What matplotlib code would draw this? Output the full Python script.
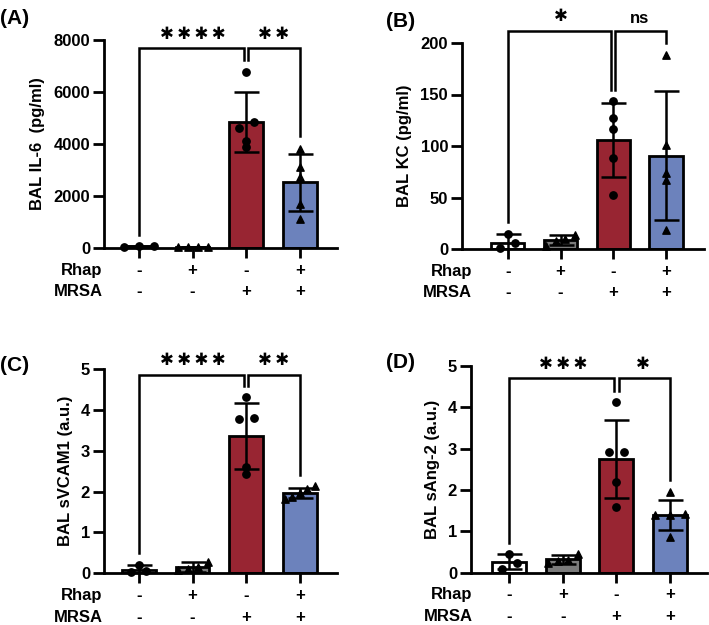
import matplotlib
matplotlib.use("Agg")
import matplotlib.pyplot as plt
import numpy as np

plt.rcParams['font.family'] = ['Liberation Sans', 'DejaVu Sans']
plt.rcParams['font.weight'] = 'bold'
plt.rcParams['axes.labelweight'] = 'bold'

# groups: (Rhap, MRSA)
rhap = ["-", "+", "-", "+"]
mrsa = ["-", "-", "+", "+"]
bar_colors = ["white", "#7b7b7b", "#982532", "#6c82bc"]
markers = ["o", "^", "o", "^"]

# (A) BAL IL-6
il6_mean = [65, 30, 4840, 2530]
il6_sd = [20, 8, 1150, 1090]
il6_pts = [[90, 60, 45], [35, 30, 25, 30],
           [6780, 4830, 4600, 4130, 3880],
           [3820, 3120, 2720, 1690, 1120]]

# (B) BAL KC
kc_mean = [6.3, 8.8, 105.8, 90.4]
kc_sd = [8, 5, 35.8, 62.6]
kc_pts = [[15, 5.5, 0.6], [14, 10, 8, 3],
          [143.5, 127.4, 116.5, 88.4, 52.9],
          [188.7, 101.3, 73.9, 67.1, 18.4]]

# (C) BAL sVCAM1
vcam_mean = [0.09, 0.15, 3.36, 1.97]
vcam_sd = [0.11, 0.12, 0.81, 0.12]
vcam_pts = [[0.21, 0.05, 0.03], [0.28, 0.16, 0.1, 0.07],
            [4.31, 3.79, 3.77, 2.61, 2.43],
            [2.13, 2.07, 1.96, 1.86, 1.83]]

# (D) BAL sAng-2
ang_mean = [0.26, 0.32, 2.75, 1.40]
ang_sd = [0.18, 0.10, 0.94, 0.37]
ang_pts = [[0.46, 0.24, 0.10], [0.44, 0.31, 0.28, 0.23],
           [4.12, 2.93, 2.93, 2.20, 1.59],
           [1.94, 1.41, 1.40, 1.39, 0.87]]

panels = [
    dict(tag="(A)", ylabel="BAL IL-6  (pg/ml)", mean=il6_mean, sd=il6_sd, pts=il6_pts,
         ymax=8000, yticks=[0, 2000, 4000, 6000, 8000],
         br_y=7680, legs=[500, 7240, 4290], stars=["✱✱✱✱", "✱✱"],
         rect=[0.1467, 0.6032, 0.3286, 0.3328], xlim=(-0.65, 3.69)),
    dict(tag="(B)", ylabel="BAL KC (pg/ml)", mean=kc_mean, sd=kc_sd, pts=kc_pts,
         ymax=200, yticks=[0, 50, 100, 150, 200],
         br_y=212, legs=[26, 154, 200], stars=["✱", "ns"],
         rect=[0.6516, 0.6016, 0.3413, 0.3296], xlim=(-0.87, 3.72)),
    dict(tag="(C)", ylabel="BAL sVCAM1 (a.u.)", mean=vcam_mean, sd=vcam_sd, pts=vcam_pts,
         ymax=5, yticks=[0, 1, 2, 3, 4, 5],
         br_y=4.86, legs=[0.5, 4.58, 2.4], stars=["✱✱✱✱", "✱✱"],
         rect=[0.1467, 0.0827, 0.3286, 0.327], xlim=(-0.65, 3.69)),
    dict(tag="(D)", ylabel="BAL sAng-2 (a.u.)", mean=ang_mean, sd=ang_sd, pts=ang_pts,
         ymax=5, yticks=[0, 1, 2, 3, 4, 5],
         br_y=4.7, legs=[0.73, 4.4, 2.24], stars=["✱✱✱", "✱"],
         rect=[0.6643, 0.0837, 0.3329, 0.3307], xlim=(-0.71, 3.69)),
]


def spread(vals, ymax):
    # simple beeswarm: chain close values and spread them sideways
    vals = np.asarray(vals, float)
    order = np.argsort(vals)
    offs = np.zeros(len(vals))
    clusters, cur = [], [order[0]]
    for i in order[1:]:
        if vals[i] - vals[cur[-1]] < 0.03 * ymax:
            cur.append(i)
        else:
            clusters.append(cur)
            cur = [i]
    clusters.append(cur)
    for c in clusters:
        n = len(c)
        if n > 1:
            step = min(0.28, 0.56 / (n - 1))
            for k, i in enumerate(c):
                offs[i] = (k - (n - 1) / 2) * step
    return offs


def sig_text(ax, s, xpos, yb):
    if "✱" in s:
        ax.annotate("\u2009".join(s), xy=(xpos, yb), xytext=(0, 10.5),
                    textcoords="offset points", ha="center", va="center",
                    fontsize=12, family=["DejaVu Sans"], annotation_clip=False)
    else:
        ax.annotate(s, xy=(xpos, yb), xytext=(0, 9), textcoords="offset points",
                    ha="center", va="center", fontsize=12, fontweight="bold",
                    annotation_clip=False)


fig = plt.figure(figsize=(7.09, 6.25), dpi=100)
x = np.arange(4)

for p in panels:
    ax = fig.add_axes(p["rect"])
    ax.bar(x, p["mean"], width=0.63, color=bar_colors, edgecolor="black",
           linewidth=2, zorder=2)
    ax.errorbar(x, p["mean"], yerr=p["sd"], fmt="none", ecolor="black",
                elinewidth=1.8, capsize=9, capthick=1.8, zorder=3)
    for g in range(4):
        off = spread(p["pts"][g], p["ymax"])
        ax.scatter(x[g] + off, p["pts"][g], marker=markers[g], s=28,
                   color="black", zorder=4, clip_on=False)

    ax.set_xlim(*p["xlim"])
    ax.set_ylim(0, p["ymax"])
    ax.set_yticks(p["yticks"])
    ax.set_xticks(x)
    ax.set_xticklabels([])
    for s in ["top", "right"]:
        ax.spines[s].set_visible(False)
    for s in ["left", "bottom"]:
        ax.spines[s].set_linewidth(2)
    ax.tick_params(axis="y", length=8, width=2, labelsize=12, pad=2)
    ax.tick_params(axis="x", length=7, width=2)
    for lab in ax.get_yticklabels():
        lab.set_fontweight("bold")
    ax.set_ylabel(p["ylabel"], fontsize=12, fontweight="bold", labelpad=6)

    # +/- rows
    for row, (name, signs) in enumerate([("Rhap", rhap), ("MRSA", mrsa)]):
        dy = -16 - 15.5 * row
        ax.annotate(name, xy=(-0.68, 0), xycoords=("data", "axes fraction"),
                    xytext=(0, dy), textcoords="offset points",
                    ha="right", va="center", fontsize=12, fontweight="bold",
                    annotation_clip=False)
        for g in range(4):
            ax.annotate(signs[g], xy=(x[g], 0), xycoords=("data", "axes fraction"),
                        xytext=(0, dy), textcoords="offset points",
                        ha="center", va="center", fontsize=12, fontweight="bold",
                        annotation_clip=False)

    # significance brackets
    d = 0.04
    yb = p["br_y"]
    l0, l2, l3 = p["legs"]
    ax.plot([0, 0, 2 - d, 2 - d], [l0, yb, yb, l2], color="black", lw=1.8,
            clip_on=False, solid_joinstyle="miter")
    ax.plot([2 + d, 2 + d, 3, 3], [l2, yb, yb, l3], color="black", lw=1.8,
            clip_on=False, solid_joinstyle="miter")
    sig_text(ax, p["stars"][0], 1, yb)
    sig_text(ax, p["stars"][1], 2.5, yb)

    # panel tag
    r = p["rect"]
    tx = 0.0 if r[0] < 0.5 else 0.545
    ty = r[1] + r[3] + (0.035 if r[1] > 0.5 else 0.005)
    fig.text(tx, ty, p["tag"], fontsize=15, fontweight="bold", ha="left", va="center")

fig.savefig("out.png", dpi=100)
